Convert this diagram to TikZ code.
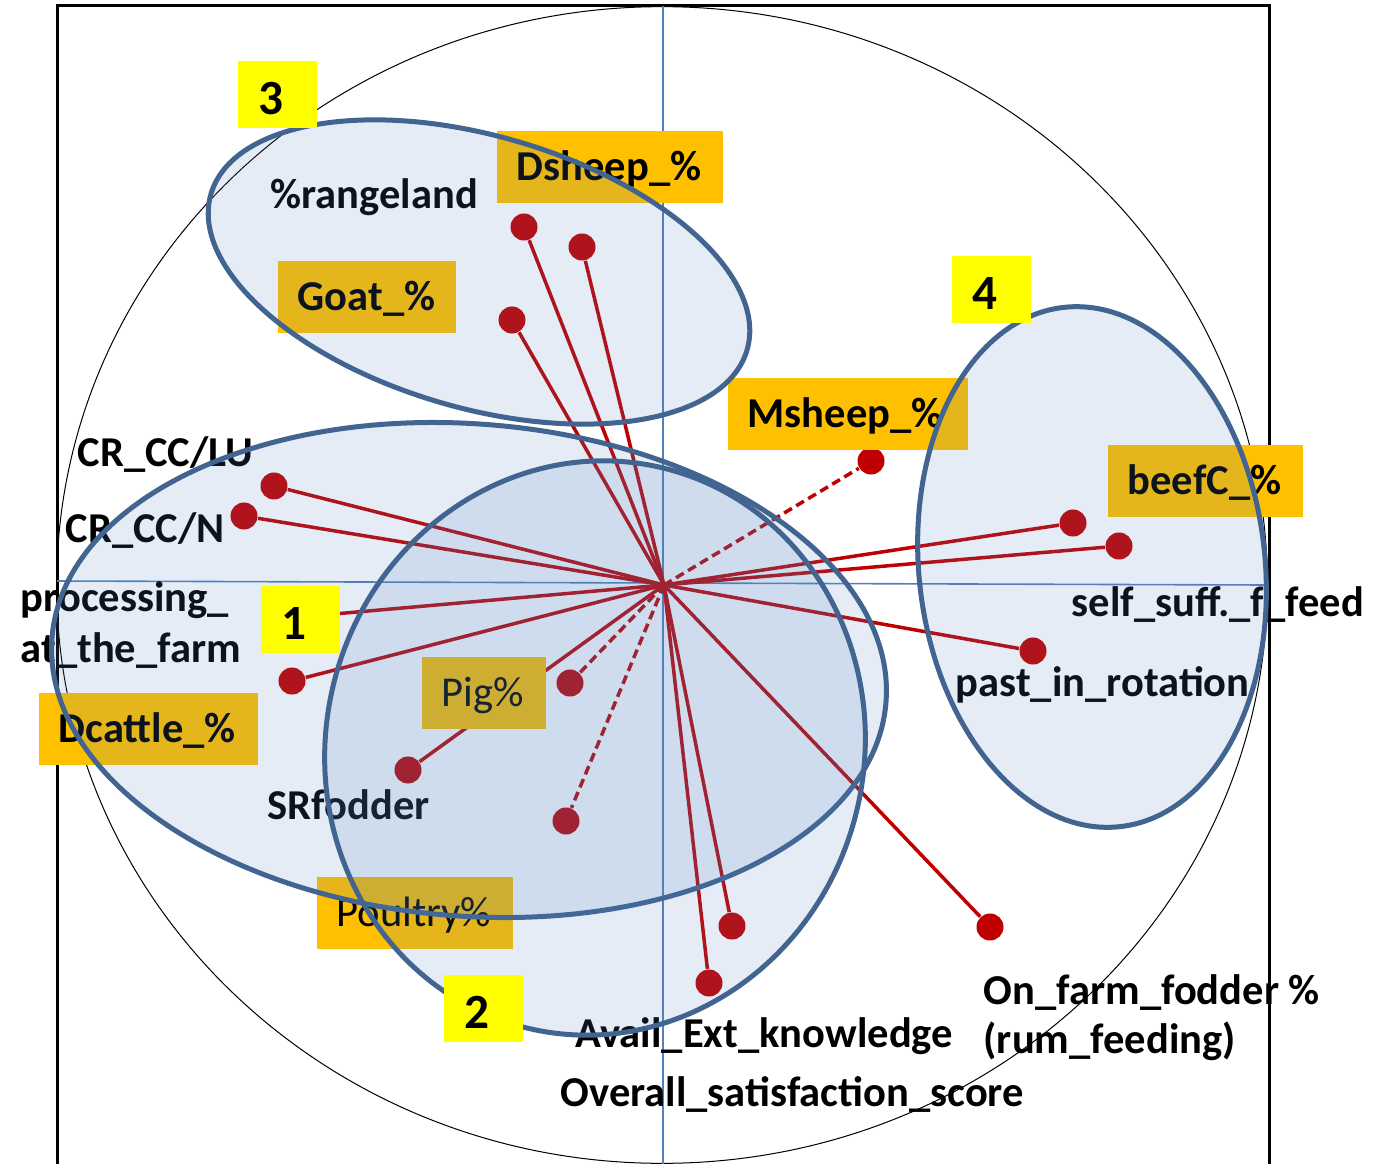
\documentclass[tikz,border=0pt]{standalone}
\usepackage{fontspec}
\setmainfont{Carlito}
\definecolor{rd}{RGB}{192,0,0}
\definecolor{axb}{RGB}{79,129,189}
\definecolor{ellb}{RGB}{65,100,145}
\definecolor{orng}{RGB}{255,192,0}
\definecolor{ylw}{RGB}{255,255,0}
\begin{document}
\begin{tikzpicture}[x=0.01cm,y=-0.01cm,
  lbl/.style={inner sep=0pt, anchor=base west, font=\fontsize{12.1}{14.2}\selectfont\bfseries},
  reddot/.style={circle, fill=rd, inner sep=0pt, minimum size=0.27cm},
  vec/.style={draw=rd, line width=0.035cm},
  dvec/.style={vec, dash pattern=on 0.09cm off 0.05cm},
  obox/.style={fill=orng, anchor=north west, inner xsep=0.2cm, inner ysep=0pt, text height=0.50cm, text depth=0.22cm, align=left, font=\fontsize{12.1}{14.2}\selectfont\bfseries},
  ybox/.style={fill=ylw, anchor=north west, inner xsep=0.21cm, inner ysep=0pt, text height=0.54cm, text depth=0.13cm, text width=0.37cm, align=left, font=\fontsize{14}{16}\selectfont\bfseries},
  grp/.style={draw=ellb, line width=0.05cm, fill=axb, fill opacity=0.15},
  thin/.style={draw=black, line width=0.01cm},
  axis/.style={draw=axb, line width=0.016cm}
]
\useasboundingbox (0,0) rectangle (1391,1164);
% frame
\draw[line width=0.03cm] (57,1164) -- (57,6) -- (1269,6) -- (1269,1164);
% correlation circle
\draw[thin] (662,585) ellipse [x radius=6.05cm, y radius=5.78cm];
% axes
\draw[axis] (663,6) -- (663,1164);
\draw[axis] (57,581) -- (1266,585);
% origin
\coordinate (O) at (664,585);
\coordinate (procend) at (300,617);
% dots
\node[reddot] (dsh1) at (524,227) {};
\node[reddot] (dsh2) at (582,247) {};
\node[reddot] (goat) at (512,320) {};
\node[reddot] (msh) at (871,461) {};
\node[reddot] (cclu) at (274,486) {};
\node[reddot] (ccn) at (244,516) {};
\node[reddot] (dcat) at (292,681) {};
\node[reddot] (pig) at (570,683) {};
\node[reddot] (srf) at (408,770) {};
\node[reddot] (poul) at (566,821) {};
\node[reddot] (avail) at (732,926) {};
\node[reddot] (overall) at (709,983) {};
\node[reddot] (onfarm) at (990,927) {};
\node[reddot] (past) at (1033,651) {};
\node[reddot] (beef1) at (1073,523) {};
\node[reddot] (beef2) at (1119,546) {};
% vectors
\draw[vec] (O) -- (dsh1);
\draw[vec] (O) -- (dsh2);
\draw[vec] (O) -- (goat);
\draw[dvec] (O) -- (msh);
\draw[vec] (O) -- (cclu);
\draw[vec] (O) -- (ccn);
\draw[vec] (O) -- (procend);
\draw[vec] (O) -- (dcat);
\draw[dvec] (O) -- (pig);
\draw[vec] (O) -- (srf);
\draw[dvec] (O) -- (poul);
\draw[vec] (O) -- (avail);
\draw[vec] (O) -- (overall);
\draw[vec] (O) -- (onfarm);
\draw[vec] (O) -- (past);
\draw[vec] (O) -- (beef1);
\draw[vec] (O) -- (beef2);
% labels
\node[lbl] (trange) at (270,209) {\%rangeland};
\node[lbl] (tcclu) at (77,466) {CR\_CC/LU};
\node[lbl] (tccn) at (65,542) {CR\_CC/N};
\node[lbl] (tproc) at (20,611) {processing\_};
\node[lbl] (tfarm) at (20,662) {at\_the\_farm};
\node[lbl] (tself) at (1071,616) {self\_suff.\_f\_feed};
\node[lbl] (tpast) at (955,696) {past\_in\_rotation};
\node[lbl] (tsrf) at (267,819) {SRfodder};
\node[lbl] (tavail) at (575,1047) {Avail\_Ext\_knowledge};
\node[lbl] (tover) at (560,1106) {Overall\_satisfaction\_score};
\node[lbl] (tonf) at (983,1004) {On\_farm\_fodder \%};
\node[lbl] (trum) at (983,1053) {(rum\_feeding)};
% orange boxes
\node[obox, text width=1.86cm] (bdsh) at (496,130) {Dsheep\_\%};
\node[obox, text width=1.38cm] (bgoat) at (277,260) {Goat\_\%};
\node[obox, text width=2.00cm] (bmsh) at (727,377) {Msheep\_\%};
\node[obox, text width=1.55cm] (bbeef) at (1107,444) {beefC\_\%};
\node[obox, text width=1.79cm] (bdcat) at (38,692) {Dcattle\_\%};
\node[obox, text width=0.84cm, font=\fontsize{12.1}{14.2}\selectfont\mdseries] (bpig) at (421,656) {Pig\%};
\node[obox, text width=1.56cm, font=\fontsize{12.1}{14.2}\selectfont\mdseries] (bpoul) at (316,876) {Poultry\%};
% groups
\draw[grp, rotate around={-16.2:(479,272)}] (479,272) ellipse [x radius=2.79cm, y radius=1.36cm];
\draw[grp, rotate around={-4.4:(469,670)}] (469,670) ellipse [x radius=4.18cm, y radius=2.46cm];
\draw[grp, rotate around={-13.9:(595,748)}] (595,748) ellipse [x radius=2.69cm, y radius=2.88cm];
\draw[grp, rotate around={6.1:(1092,567)}] (1092,567) ellipse [x radius=1.73cm, y radius=2.61cm];
% group numbers
\node[ybox] (g3) at (237,60) {3};
\node[ybox] (g4) at (951,255) {4};
\node[ybox] (g1) at (260,585) {1};
\node[ybox] (g2) at (443,974) {2};
\end{tikzpicture}
\end{document}
